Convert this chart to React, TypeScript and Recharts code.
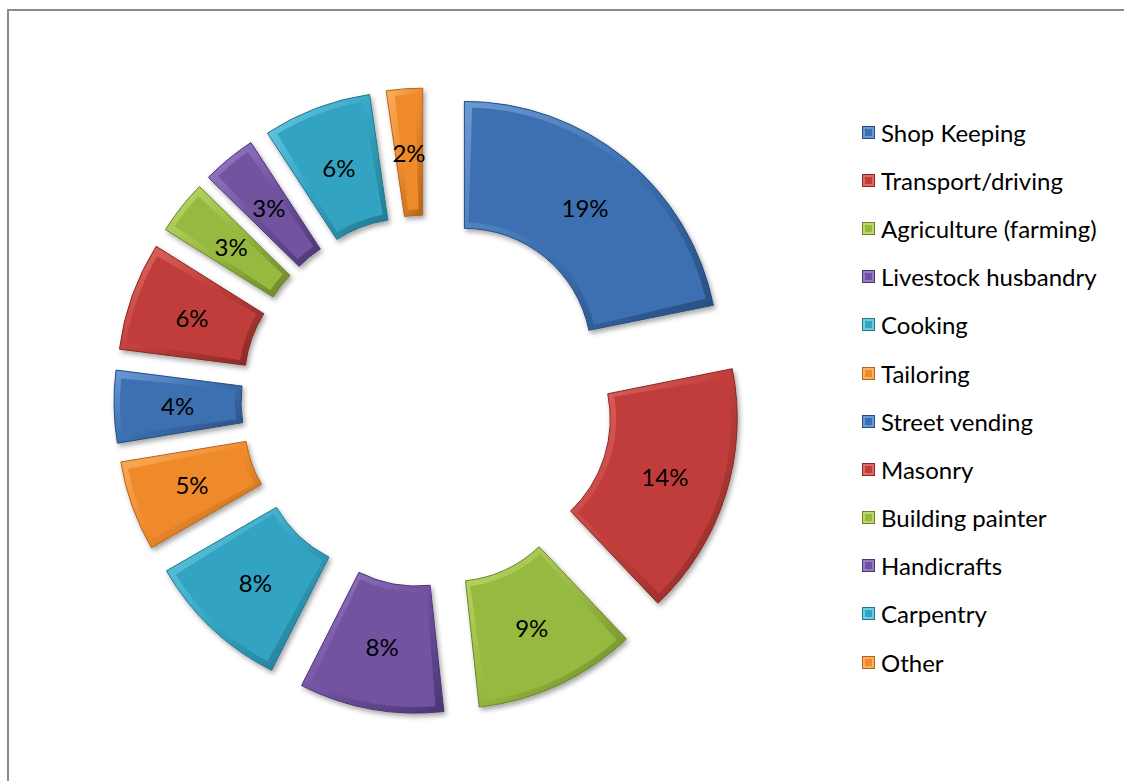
import { PieChart, Pie, Sector, Legend } from "recharts";

const categories = [
  "Shop Keeping",
  "Transport/driving",
  "Agriculture (farming)",
  "Livestock husbandry",
  "Cooking",
  "Tailoring",
  "Street vending",
  "Masonry",
  "Building painter",
  "Handicrafts",
  "Carpentry",
  "Other",
];
const shares = [19, 14, 9, 8, 8, 5, 4, 6, 3, 3, 6, 2];

const palette = [
  { base: "#3C6FB0", light: "#6A9AD6", dark: "#264C7E" }, // blue
  { base: "#C03E3A", light: "#E26A64", dark: "#862824" }, // red
  { base: "#97B940", light: "#BCD868", dark: "#6A8528" }, // green
  { base: "#7152A0", light: "#9A7CC6", dark: "#4C3573" }, // purple
  { base: "#33A4C2", light: "#6BCDE6", dark: "#22758C" }, // teal
  { base: "#EF8A2C", light: "#FBB060", dark: "#B2641A" }, // orange
];

const data = categories.map((name, i) => ({ name, value: shares[i] }));

const FONT = "Lato, 'Open Sans', sans-serif";
const EXPLODE = 59;
const BEVEL = 6;
const RAD = Math.PI / 180;

const colorOf = (name: string) => palette[categories.indexOf(name) % palette.length];

function ExplodedSlice(props: any) {
  const { cx, cy, innerRadius, outerRadius, startAngle, endAngle, midAngle } = props;
  const name = props.name ?? props.payload?.name;
  const k = categories.indexOf(name) % palette.length;
  const c = palette[k];
  const x = cx + EXPLODE * Math.cos(midAngle * RAD);
  const y = cy - EXPLODE * Math.sin(midAngle * RAD);
  const dir = endAngle > startAngle ? 1 : -1;
  const midR = (innerRadius + outerRadius) / 2;
  const da = ((BEVEL / midR) / RAD) * dir;
  return (
    <g filter="url(#sliceShadow)">
      <Sector
        cx={x}
        cy={y}
        innerRadius={innerRadius}
        outerRadius={outerRadius}
        startAngle={startAngle}
        endAngle={endAngle}
        fill={`url(#bevel-${k})`}
        stroke={c.dark}
        strokeWidth={1}
      />
      <Sector
        cx={x}
        cy={y}
        innerRadius={innerRadius + BEVEL}
        outerRadius={outerRadius - BEVEL}
        startAngle={startAngle + da}
        endAngle={endAngle - da}
        fill={c.base}
      />
    </g>
  );
}

function SliceLabel(props: any) {
  const { cx, cy, midAngle, innerRadius, outerRadius, value } = props;
  const r = (innerRadius + outerRadius) / 2 + EXPLODE;
  const x = cx + r * Math.cos(midAngle * RAD);
  const y = cy - r * Math.sin(midAngle * RAD);
  return (
    <text x={x} y={y} textAnchor="middle" dominantBaseline="central" fontSize={24} fontFamily={FONT} fill="#000">
      {value}%
    </text>
  );
}

function LegendList() {
  return (
    <div style={{ fontFamily: FONT, fontSize: 24, color: "#000" }}>
      {categories.map((name) => {
        const c = colorOf(name);
        return (
          <div key={name} style={{ display: "flex", alignItems: "center", height: 48.2, whiteSpace: "nowrap" }}>
            <svg width={13} height={13} style={{ marginRight: 6, flex: "none" }}>
              <rect x={0.5} y={0.5} width={12} height={12} fill={c.light} stroke={c.dark} />
              <rect x={3} y={3} width={7} height={7} fill={c.base} />
            </svg>
            <span>{name}</span>
          </div>
        );
      })}
    </div>
  );
}

export default function App() {
  return (
    <div style={{ position: "absolute", left: 0, top: 0, width: 1124, height: 781, overflow: "hidden", background: "#fff" }}>
      <div
        style={{
          position: "absolute",
          left: 7,
          top: 9,
          width: 1200,
          height: 900,
          borderLeft: "2px solid #8a8a8a",
          borderTop: "2px solid #8a8a8a",
        }}
      />
      <div style={{ position: "absolute", left: 0, top: 0 }}>
        <PieChart width={1124} height={781}>
          <defs>
            <filter id="sliceShadow" x="-20%" y="-20%" width="140%" height="140%">
              <feDropShadow dx={2} dy={3} stdDeviation={2.5} floodColor="#000" floodOpacity={0.35} />
            </filter>
            {palette.map((c, k) => (
              <linearGradient key={`b${k}`} id={`bevel-${k}`} x1="0" y1="0" x2="1" y2="1">
                <stop offset="0%" stopColor={c.light} />
                <stop offset="50%" stopColor={c.base} />
                <stop offset="100%" stopColor={c.dark} />
              </linearGradient>
            ))}
          </defs>
          <Pie
            data={data}
            dataKey="value"
            nameKey="name"
            cx={422}
            cy={396}
            innerRadius={127}
            outerRadius={254}
            startAngle={90}
            endAngle={-270}
            stroke="none"
            shape={ExplodedSlice}
            inactiveShape={ExplodedSlice}
            label={SliceLabel}
            labelLine={false}
            isAnimationActive={false}
          />
          <Legend
            layout="vertical"
            align="right"
            verticalAlign="top"
            content={() => <LegendList />}
            wrapperStyle={{ position: "absolute", left: 862, top: 108, width: 262 }}
          />
        </PieChart>
      </div>
    </div>
  );
}
